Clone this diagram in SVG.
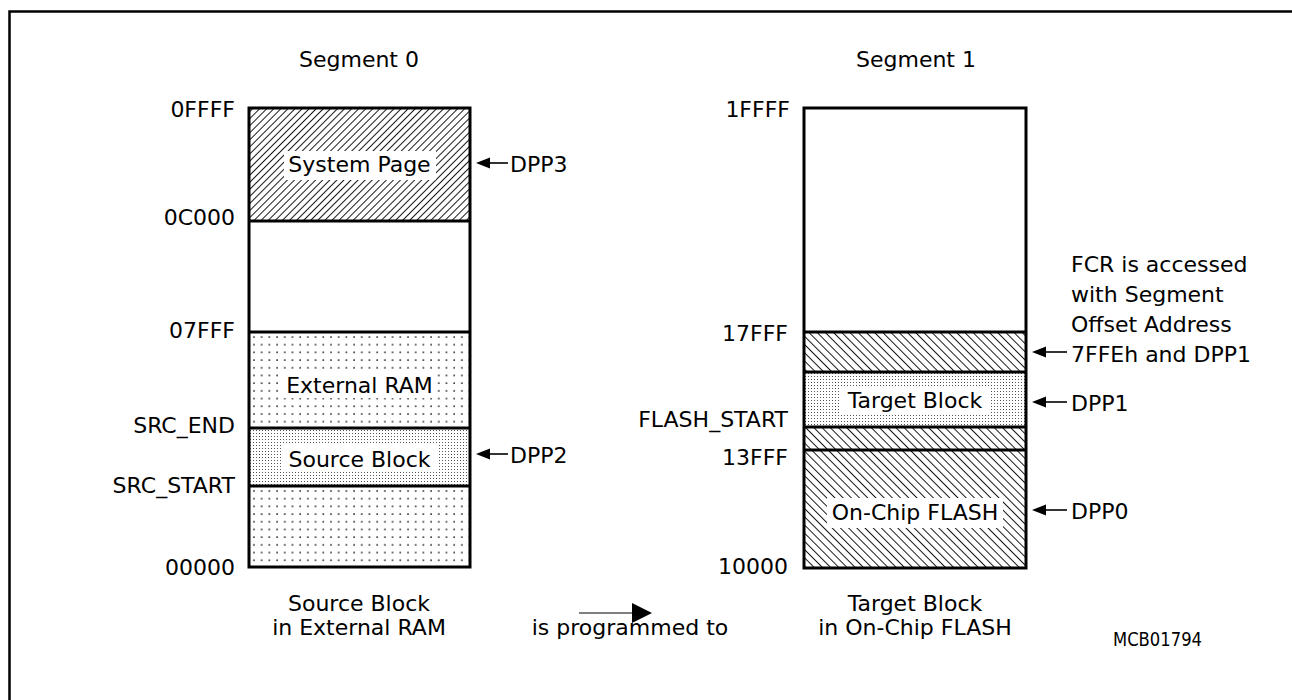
<svg xmlns="http://www.w3.org/2000/svg" width="1292" height="700" viewBox="0 0 1292 700">
<defs>
<style>
text{font-family:"DejaVu Sans","Liberation Sans",sans-serif;font-size:22px;fill:#000}
.e{text-anchor:end}
.m{text-anchor:middle}
.blk{fill:none;stroke:#000;stroke-width:3}
.div{stroke:#000;stroke-width:3}
.bg{fill:#fff}
.ar{stroke:#000;stroke-width:1.6;fill:none}
.hd{fill:#000}
</style>
<pattern id="hf" patternUnits="userSpaceOnUse" width="5" height="5" patternTransform="rotate(45)">
<rect width="5" height="5" fill="#fff"/>
<line x1="0.5" y1="0" x2="0.5" y2="5" stroke="#000" stroke-width="0.9"/>
</pattern>
<pattern id="hb" patternUnits="userSpaceOnUse" width="5.8" height="5.8" patternTransform="rotate(-45)">
<rect width="5.8" height="5.8" fill="#fff"/>
<line x1="0.5" y1="0" x2="0.5" y2="5.8" stroke="#000" stroke-width="0.9"/>
</pattern>
<pattern id="sd" patternUnits="userSpaceOnUse" width="7.7" height="7.7" x="251" y="334">
<rect width="7.7" height="7.7" fill="#fff"/>
<path d="M3 2.3v1.4M2.3 3h1.4" stroke="#000" stroke-width="0.9"/>
</pattern>
<pattern id="dd" patternUnits="userSpaceOnUse" width="3" height="3">
<rect width="3" height="3" fill="#fff"/>
<rect x="1" y="1" width="1" height="1" fill="#555"/>
</pattern>
</defs>
<rect x="9.5" y="11.5" width="1300" height="700" fill="none" stroke="#000" stroke-width="2.5"/>
<text x="359" y="67" class="m">Segment 0</text>
<text x="916" y="67" class="m">Segment 1</text>
<g id="seg0">
<g id="system-page">
<rect x="249" y="108" width="221" height="113" fill="url(#hf)"/>
<rect x="284" y="151" width="152" height="29" class="bg"/>
<text x="359.5" y="172" class="m">System Page</text>
</g>
<g id="seg0-free"><rect x="249" y="221" width="221" height="111" fill="#fff"/></g>
<g id="external-ram">
<rect x="249" y="332" width="221" height="96" fill="url(#sd)"/>
<rect x="249" y="486" width="221" height="81" fill="url(#sd)"/>
<rect x="283" y="370" width="154" height="28" class="bg"/>
<text x="359.5" y="393" class="m">External RAM</text>
</g>
<g id="source-block">
<rect x="249" y="428" width="221" height="58" fill="url(#dd)"/>
<rect x="283" y="444" width="154" height="28" class="bg"/>
<text x="359.5" y="467" class="m">Source Block</text>
</g>
<rect x="249" y="108" width="221" height="459" class="blk"/>
<line x1="249" y1="221" x2="470" y2="221" class="div"/>
<line x1="249" y1="332" x2="470" y2="332" class="div"/>
<line x1="249" y1="428" x2="470" y2="428" class="div"/>
<line x1="249" y1="486" x2="470" y2="486" class="div"/>
<text x="235" y="117" class="e">0FFFF</text>
<text x="235" y="225" class="e">0C000</text>
<text x="235" y="338" class="e">07FFF</text>
<text x="235" y="433" class="e">SRC_END</text>
<text x="235" y="493" class="e">SRC_START</text>
<text x="235" y="575" class="e">00000</text>
</g>
<g id="seg1">
<g id="seg1-free"><rect x="804" y="108" width="222" height="224" fill="#fff"/></g>
<g id="fcr-area"><rect x="804" y="332" width="222" height="40" fill="url(#hb)"/></g>
<g id="target-block">
<rect x="804" y="372" width="222" height="55" fill="url(#dd)"/>
<rect x="840" y="386" width="150" height="28" class="bg"/>
<text x="915" y="408" class="m">Target Block</text>
</g>
<g id="flash-gap"><rect x="804" y="427" width="222" height="23" fill="url(#hb)"/></g>
<g id="on-chip-flash">
<rect x="804" y="450" width="222" height="118" fill="url(#hb)"/>
<rect x="827" y="498" width="176" height="30" class="bg"/>
<text x="915" y="520" class="m">On-Chip FLASH</text>
</g>
<rect x="804" y="108" width="222" height="460" class="blk"/>
<line x1="804" y1="332" x2="1026" y2="332" class="div"/>
<line x1="804" y1="372" x2="1026" y2="372" class="div"/>
<line x1="804" y1="427" x2="1026" y2="427" class="div"/>
<line x1="804" y1="450" x2="1026" y2="450" class="div"/>
<text x="790" y="117" class="e">1FFFF</text>
<text x="788" y="341" class="e">17FFF</text>
<text x="788" y="427" class="e">FLASH_START</text>
<text x="788" y="465" class="e">13FFF</text>
<text x="788" y="574" class="e">10000</text>
</g>
<g id="connectors">
<path class="ar" d="M488 163H508"/><path class="hd" d="M476 163L490 157.5V168.5Z"/>
<path class="ar" d="M488 454H508"/><path class="hd" d="M476 454L490 448.5V459.5Z"/>
<path class="ar" d="M1044 352H1067"/><path class="hd" d="M1032 352L1046 346.5V357.5Z"/>
<path class="ar" d="M1044 402H1067"/><path class="hd" d="M1032 402L1046 396.5V407.5Z"/>
<path class="ar" d="M1044 510H1067"/><path class="hd" d="M1032 510L1046 504.5V515.5Z"/>
<path d="M579 613H634" stroke="#555" stroke-width="1.6"/><path class="hd" d="M652 613L632 603V623Z"/>
</g>
<g id="labels">
<text x="510" y="172">DPP3</text>
<text x="510" y="463">DPP2</text>
<text x="1071" y="272">FCR is accessed</text>
<text x="1071" y="302">with Segment</text>
<text x="1071" y="332">Offset Address</text>
<text x="1071" y="362">7FFEh and DPP1</text>
<text x="1071" y="411">DPP1</text>
<text x="1071" y="519">DPP0</text>
<text x="359" y="611" class="m">Source Block</text>
<text x="359" y="635" class="m">in External RAM</text>
<text x="630" y="635" class="m">is programmed to</text>
<text x="915" y="611" class="m">Target Block</text>
<text x="915" y="635" class="m">in On-Chip FLASH</text>
<text x="1113" y="646" style="font-size:19px" textLength="89" lengthAdjust="spacingAndGlyphs">MCB01794</text>
</g>
</svg>
